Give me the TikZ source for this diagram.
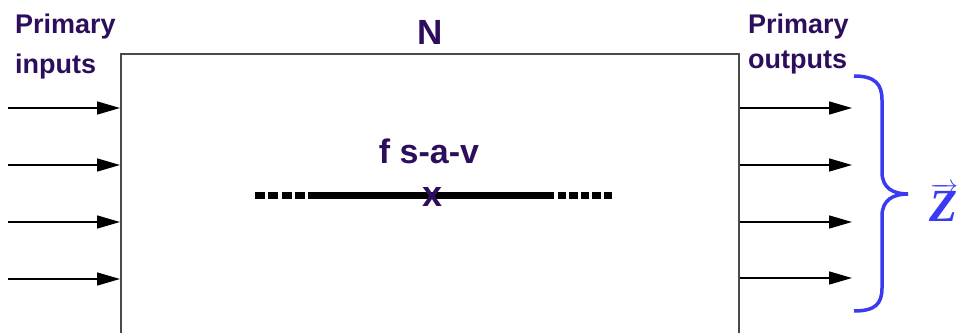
\documentclass[tikz,border=0pt]{standalone}
\usepackage{fontspec}
\setmainfont{Liberation Sans}
\newfontfamily\zfont{Liberation Serif}
\usetikzlibrary{arrows.meta}
\definecolor{txt}{HTML}{2D0E5C}
\definecolor{brc}{HTML}{3A3AF2}
\definecolor{boxline}{HTML}{4A4A4A}
\newcommand{\zvec}{\ensuremath{\overrightarrow{\hbox{\zfont\bfseries\itshape Z}}}}
\begin{document}
\begin{tikzpicture}[x=1pt,y=-1pt,
  lbl/.style={text=txt,inner sep=0pt,align=left,anchor=north west},
  arr/.style={line width=1.5pt,-{Triangle[length=23pt,width=13pt]}},
  wire/.style={line width=7pt,line cap=butt},
  brace/.style={draw=brc,line width=3.5pt}]
\useasboundingbox (0,0) rectangle (963,332);
\clip (0,0) rectangle (963,332);
% main block
\node[draw=boxline,line width=1.5pt,minimum width=618pt,minimum height=330pt,anchor=north west,inner sep=0pt] (box) at (120,53) {};
% labels
\node[lbl,font=\bfseries\fontsize{27}{40}\selectfont] (pin) at (15,14) {Primary\\inputs};
\node[lbl,font=\bfseries\fontsize{27}{35}\selectfont] (pout) at (748,14) {Primary\\outputs};
\node[text=txt,inner sep=0pt,anchor=base,font=\bfseries\fontsize{35}{35}\selectfont] (N) at (430,44) {N};
\node[text=txt,inner sep=0pt,anchor=base,font=\bfseries\fontsize{34}{34}\selectfont] (fsav) at (429,163) {f s-a-v};
% inputs and outputs
\foreach \i/\y in {1/108,2/165,3/222,4/279}{
  \coordinate (in\i) at (8,\y);
  \draw[arr] (in\i) -- (in\i -| box.west);
}
\foreach \i/\y in {1/108,2/165,3/222,4/278}{
  \coordinate (out\i) at (852,\y);
  \draw[arr] (out\i -| box.east) -- (out\i);
}
% faulty line
\coordinate (l0) at (255,195);
\coordinate (l1) at (308,195);
\coordinate (l2) at (546,195);
\coordinate (l3) at (614,195);
\draw[wire,dash pattern=on 10pt off 3.3pt] (l0) -- (l1);
\draw[wire] (l1) -- (l2);
\draw[wire,dash pattern=on 8.3pt off 3.3pt] (l2) -- (l3);
\node[text=txt,inner sep=0pt,font=\bfseries\fontsize{36}{36}\selectfont] (xmark) at (433,197) {x};
% brace
\coordinate (bt) at (854,76);
\coordinate (btip) at (908,194);
\coordinate (bb) at (854,311);
\draw[brace] (bt) .. controls (875,76) and (882,84) .. (882,100) -- (882,172)
  .. controls (882,188) and (893,194) .. (btip)
  .. controls (893,194) and (882,200) .. (882,216) -- (882,288)
  .. controls (882,304) and (875,311) .. (bb);
\node[text=brc,inner sep=0pt,font=\fontsize{46}{46}\selectfont] (Z) at (944,202) {\zvec};
\end{tikzpicture}
\end{document}
